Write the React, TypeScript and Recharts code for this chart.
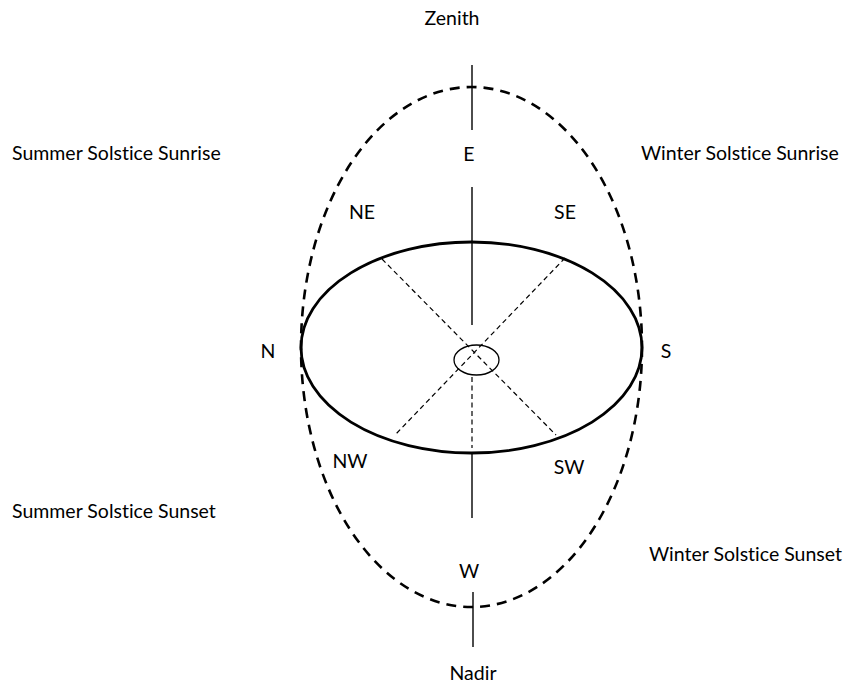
import React from 'react';
import { ScatterChart, XAxis, YAxis, ReferenceArea, ReferenceLine, Scatter } from 'recharts';

const CHART_W = 846;
const CHART_H = 684;

// Ellipses (celestial sphere outline, horizon plane, observer)
const ellipseNames = ['celestial', 'horizon', 'observer'];
const ellipseCx = [471.5, 471.5, 476.5];
const ellipseCy = [347, 347.5, 360];
const ellipseRx = [170.5, 170.5, 22.5];
const ellipseRy = [260, 105.5, 15];

// Line segments
const segX1 = [472, 472, 472, 472, 473, 382, 565];
const segY1 = [65, 187, 377, 453, 592, 259, 258];
const segX2 = [472, 472, 472, 472, 473, 556, 395];
const segY2 = [130, 325, 448, 518, 647, 435, 435];
const segDashed = [false, false, true, false, false, true, true];

// Labels
const labelText = [
  'Zenith', 'E', 'NE', 'SE', 'N', 'S', 'NW', 'SW', 'W', 'Nadir',
  'Summer Solstice Sunrise', 'Winter Solstice Sunrise',
  'Summer Solstice Sunset', 'Winter Solstice Sunset',
];
const labelX = [452, 469, 362, 565, 268, 666, 350, 569, 469, 473, 12, 641, 12, 649];
const labelY = [17, 153, 211, 211, 350, 350, 460, 466, 570, 672, 152, 152, 510, 553];
const labelAnchor = [
  'middle', 'middle', 'middle', 'middle', 'middle', 'middle', 'middle', 'middle', 'middle', 'middle',
  'start', 'start', 'start', 'start',
];

const labelData = labelText.map((t, i) => ({ x: labelX[i], y: labelY[i], text: t, anchor: labelAnchor[i] }));

const ellipseStyles: Record<string, { sw: number; dash?: string }> = {
  celestial: { sw: 2.6, dash: '10 7' },
  horizon: { sw: 2.8 },
  observer: { sw: 1.3 },
};

const makeEllipse = (name: string) => (p: any) => {
  const st = ellipseStyles[name];
  const w = Math.abs(p.width);
  const h = Math.abs(p.height);
  const cx = p.x + p.width / 2;
  const cy = p.y + p.height / 2;
  return (
    <ellipse
      cx={cx}
      cy={cy}
      rx={w / 2}
      ry={h / 2}
      fill="none"
      stroke="#000"
      strokeWidth={st.sw}
      strokeDasharray={st.dash}
    />
  );
};

const LabelShape = (p: any) => {
  const d = p.payload || {};
  return (
    <text
      x={p.cx}
      y={p.cy}
      textAnchor={d.anchor}
      dominantBaseline="central"
      fontFamily="Lato, 'Open Sans', sans-serif"
      fontSize={19.5}
      fill="#000"
      style={{ fontVariantLigatures: 'none' }}
    >
      {d.text}
    </text>
  );
};

export default function App() {
  return (
    <div style={{ position: 'absolute', left: 0, top: 0, width: CHART_W, height: CHART_H, background: '#fff' }}>
      <ScatterChart width={CHART_W} height={CHART_H} margin={{ top: 0, right: 0, bottom: 0, left: 0 }}>
        <XAxis type="number" dataKey="x" domain={[0, CHART_W]} hide allowDataOverflow />
        <YAxis type="number" dataKey="y" domain={[0, CHART_H]} reversed hide allowDataOverflow />
        {ellipseNames.map((n, i) => (
          <ReferenceArea
            key={n}
            x1={ellipseCx[i] - ellipseRx[i]}
            x2={ellipseCx[i] + ellipseRx[i]}
            y1={ellipseCy[i] - ellipseRy[i]}
            y2={ellipseCy[i] + ellipseRy[i]}
            fill="none"
            ifOverflow="visible"
            shape={makeEllipse(n)}
          />
        ))}
        {segX1.map((_, i) => (
          <ReferenceLine
            key={'s' + i}
            segment={[
              { x: segX1[i], y: segY1[i] },
              { x: segX2[i], y: segY2[i] },
            ]}
            stroke="#000"
            strokeWidth={segDashed[i] ? 1.2 : 1.4}
            strokeDasharray={segDashed[i] ? '5 3.5' : undefined}
            ifOverflow="visible"
          />
        ))}
        <Scatter data={labelData} shape={LabelShape} isAnimationActive={false} />
      </ScatterChart>
    </div>
  );
}
